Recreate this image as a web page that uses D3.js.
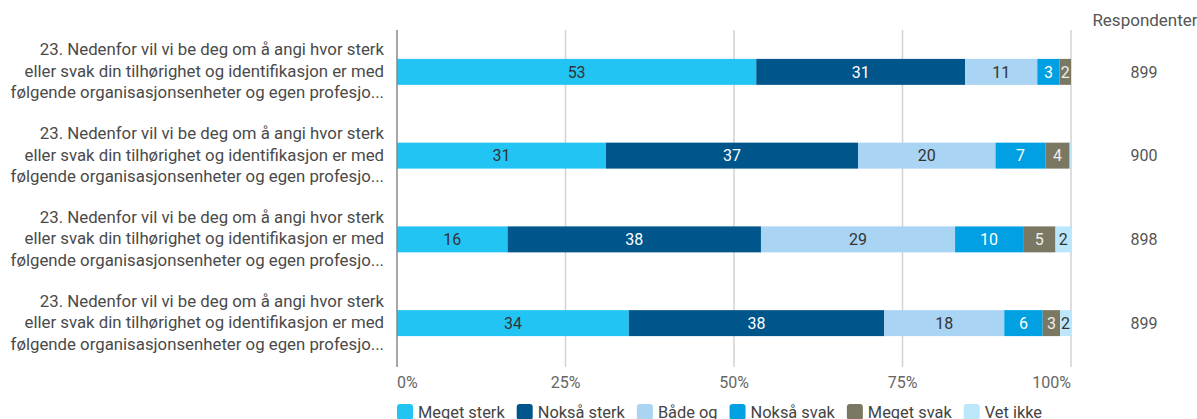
<!DOCTYPE html>
<html>
<head>
<meta charset="utf-8">
<script src="https://cdn.jsdelivr.net/npm/d3@7"></script>
<style>
  body { margin: 0; background: #fff; }
  svg { display: block; font-family: Roboto, "Noto Sans", sans-serif; }
</style>
</head>
<body>
<div id="chart"></div>
<script>
// question labels (same text on all four rows, shortened like in the survey tool)
var questions = ["q1", "q2", "q3", "q4"];
var questionLines = [
  "23. Nedenfor vil vi be deg om å angi hvor sterk",
  "eller svak din tilhørighet og identifikasjon er med",
  "følgende organisasjonsenheter og egen profesjo..."
];

var categories = ["Meget sterk", "Nokså sterk", "Både og", "Nokså svak", "Meget svak", "Vet ikke"];

// percent per row
var meget_sterk = [53.3, 31.0, 16.4, 34.4];
var noksaa_sterk = [31.0, 37.4, 37.6, 37.9];
var baade_og = [10.7, 20.4, 28.8, 17.8];
var noksaa_svak = [3.3, 7.4, 10.1, 5.7];
var meget_svak = [1.7, 3.6, 4.8, 2.6];
var vet_ikke = [0, 0.2, 2.3, 1.6];

var respondenter = [899, 900, 898, 899];
var tickValues = [0, 25, 50, 75, 100];
var tickLabels = ["0%", "25%", "50%", "75%", "100%"];

(function () {

  var colors = ["#22c4f3", "#00558a", "#a9d4f4", "#00a0e2", "#7a7763", "#bce7fb"];
  var textColors = ["#333", "#fff", "#333", "#fff", "#eee", "#333"];

  var width = 1197, height = 419;
  var plotLeft = 397, plotRight = 1071;
  var plotTop = 30, plotBottom = 365;

  // build rows for the stack
  var allSeries = [meget_sterk, noksaa_sterk, baade_og, noksaa_svak, meget_svak, vet_ikke];
  var rows = questions.map(function (q, i) {
    var r = { q: q, n: respondenter[i] };
    categories.forEach(function (c, j) { r[c] = allSeries[j][i]; });
    return r;
  });

  var layers = d3.stack().keys(categories)(rows);

  var x = d3.scaleLinear().domain([0, 100]).range([plotLeft, plotRight]);
  var y = d3.scaleBand().domain(questions).range([plotTop, plotBottom]).paddingInner(0.69).paddingOuter(0.345);
  var color = d3.scaleOrdinal().domain(categories).range(colors);

  var svg = d3.select("#chart").append("svg")
    .attr("width", width)
    .attr("height", height);

  // grid lines
  svg.append("g")
    .selectAll("line")
    .data(tickValues.slice(1))
    .enter()
    .append("line")
    .attr("x1", function (d) { return x(d); })
    .attr("x2", function (d) { return x(d); })
    .attr("y1", plotTop)
    .attr("y2", plotBottom + 2)
    .attr("stroke", "#d2d2d2")
    .attr("stroke-width", 1.5);

  // tick labels: first left aligned, last right aligned
  svg.append("g")
    .selectAll("text")
    .data(tickValues)
    .enter()
    .append("text")
    .attr("x", function (d) { return x(d); })
    .attr("y", 388)
    .attr("text-anchor", function (d, i) { return i == 0 ? "start" : (i == tickValues.length - 1 ? "end" : "middle"); })
    .attr("font-size", 16)
    .attr("fill", "#666")
    .text(function (d, i) { return tickLabels[i]; });

  // bars
  var groups = svg.append("g")
    .selectAll("g")
    .data(layers)
    .enter()
    .append("g")
    .attr("fill", function (d) { return color(d.key); });

  groups.selectAll("rect")
    .data(function (d) { return d; })
    .enter()
    .append("rect")
    .attr("x", function (d) { return x(d[0]); })
    .attr("width", function (d) { return x(d[1]) - x(d[0]); })
    .attr("y", function (d) { return y(d.data.q); })
    .attr("height", y.bandwidth());

  // value labels inside segments
  layers.forEach(function (layer, j) {
    svg.append("g")
      .selectAll("text")
      .data(layer.filter(function (d) { return d[1] - d[0] >= 1.5; }))
      .enter()
      .append("text")
      .attr("x", function (d) { return (x(d[0]) + x(d[1])) / 2; })
      .attr("y", function (d) { return y(d.data.q) + y.bandwidth() / 2; })
      .attr("dy", "0.36em")
      .attr("text-anchor", "middle")
      .attr("font-size", 16)
      .attr("fill", textColors[j])
      .text(function (d) { return Math.round(d[1] - d[0]); });
  });

  // zero axis line
  svg.append("line")
    .attr("x1", x(0)).attr("x2", x(0))
    .attr("y1", plotTop).attr("y2", plotBottom + 2)
    .attr("stroke", "#8a8a8a")
    .attr("stroke-width", 1.5);

  // question labels on the left
  rows.forEach(function (r) {
    var cy = y(r.q) + y.bandwidth() / 2;
    var t = svg.append("text")
      .attr("text-anchor", "end")
      .attr("font-size", 16.8)
      .attr("fill", "#4a4a4a");
    questionLines.forEach(function (line, k) {
      t.append("tspan")
        .attr("x", 384)
        .attr("y", cy - 1 + (k - 1) * 21.5)
        .attr("dy", "0.36em")
        .text(line);
    });
  });

  // respondenter column
  svg.append("text")
    .attr("x", 1145)
    .attr("y", 20)
    .attr("dy", "0.36em")
    .attr("text-anchor", "middle")
    .attr("font-size", 17)
    .attr("fill", "#555")
    .text("Respondenter");

  svg.append("g")
    .selectAll("text")
    .data(rows)
    .enter()
    .append("text")
    .attr("x", 1144)
    .attr("y", function (d) { return y(d.q) + y.bandwidth() / 2; })
    .attr("dy", "0.36em")
    .attr("text-anchor", "middle")
    .attr("font-size", 16)
    .attr("fill", "#555")
    .text(function (d) { return d.n; });

  // legend along the bottom
  var legend = svg.append("g");
  var lx = 397;
  categories.forEach(function (c) {
    var item = legend.append("g").attr("transform", "translate(" + lx + ",404)");
    item.append("rect")
      .attr("width", 16)
      .attr("height", 16)
      .attr("rx", 3)
      .attr("fill", color(c));
    var txt = item.append("text")
      .attr("x", 21)
      .attr("y", 8)
      .attr("dy", "0.36em")
      .attr("font-size", 16.4)
      .attr("fill", "#444")
      .text(c);
    lx += 21 + txt.node().getComputedTextLength() + 12;
  });

})();
</script>
</body>
</html>
